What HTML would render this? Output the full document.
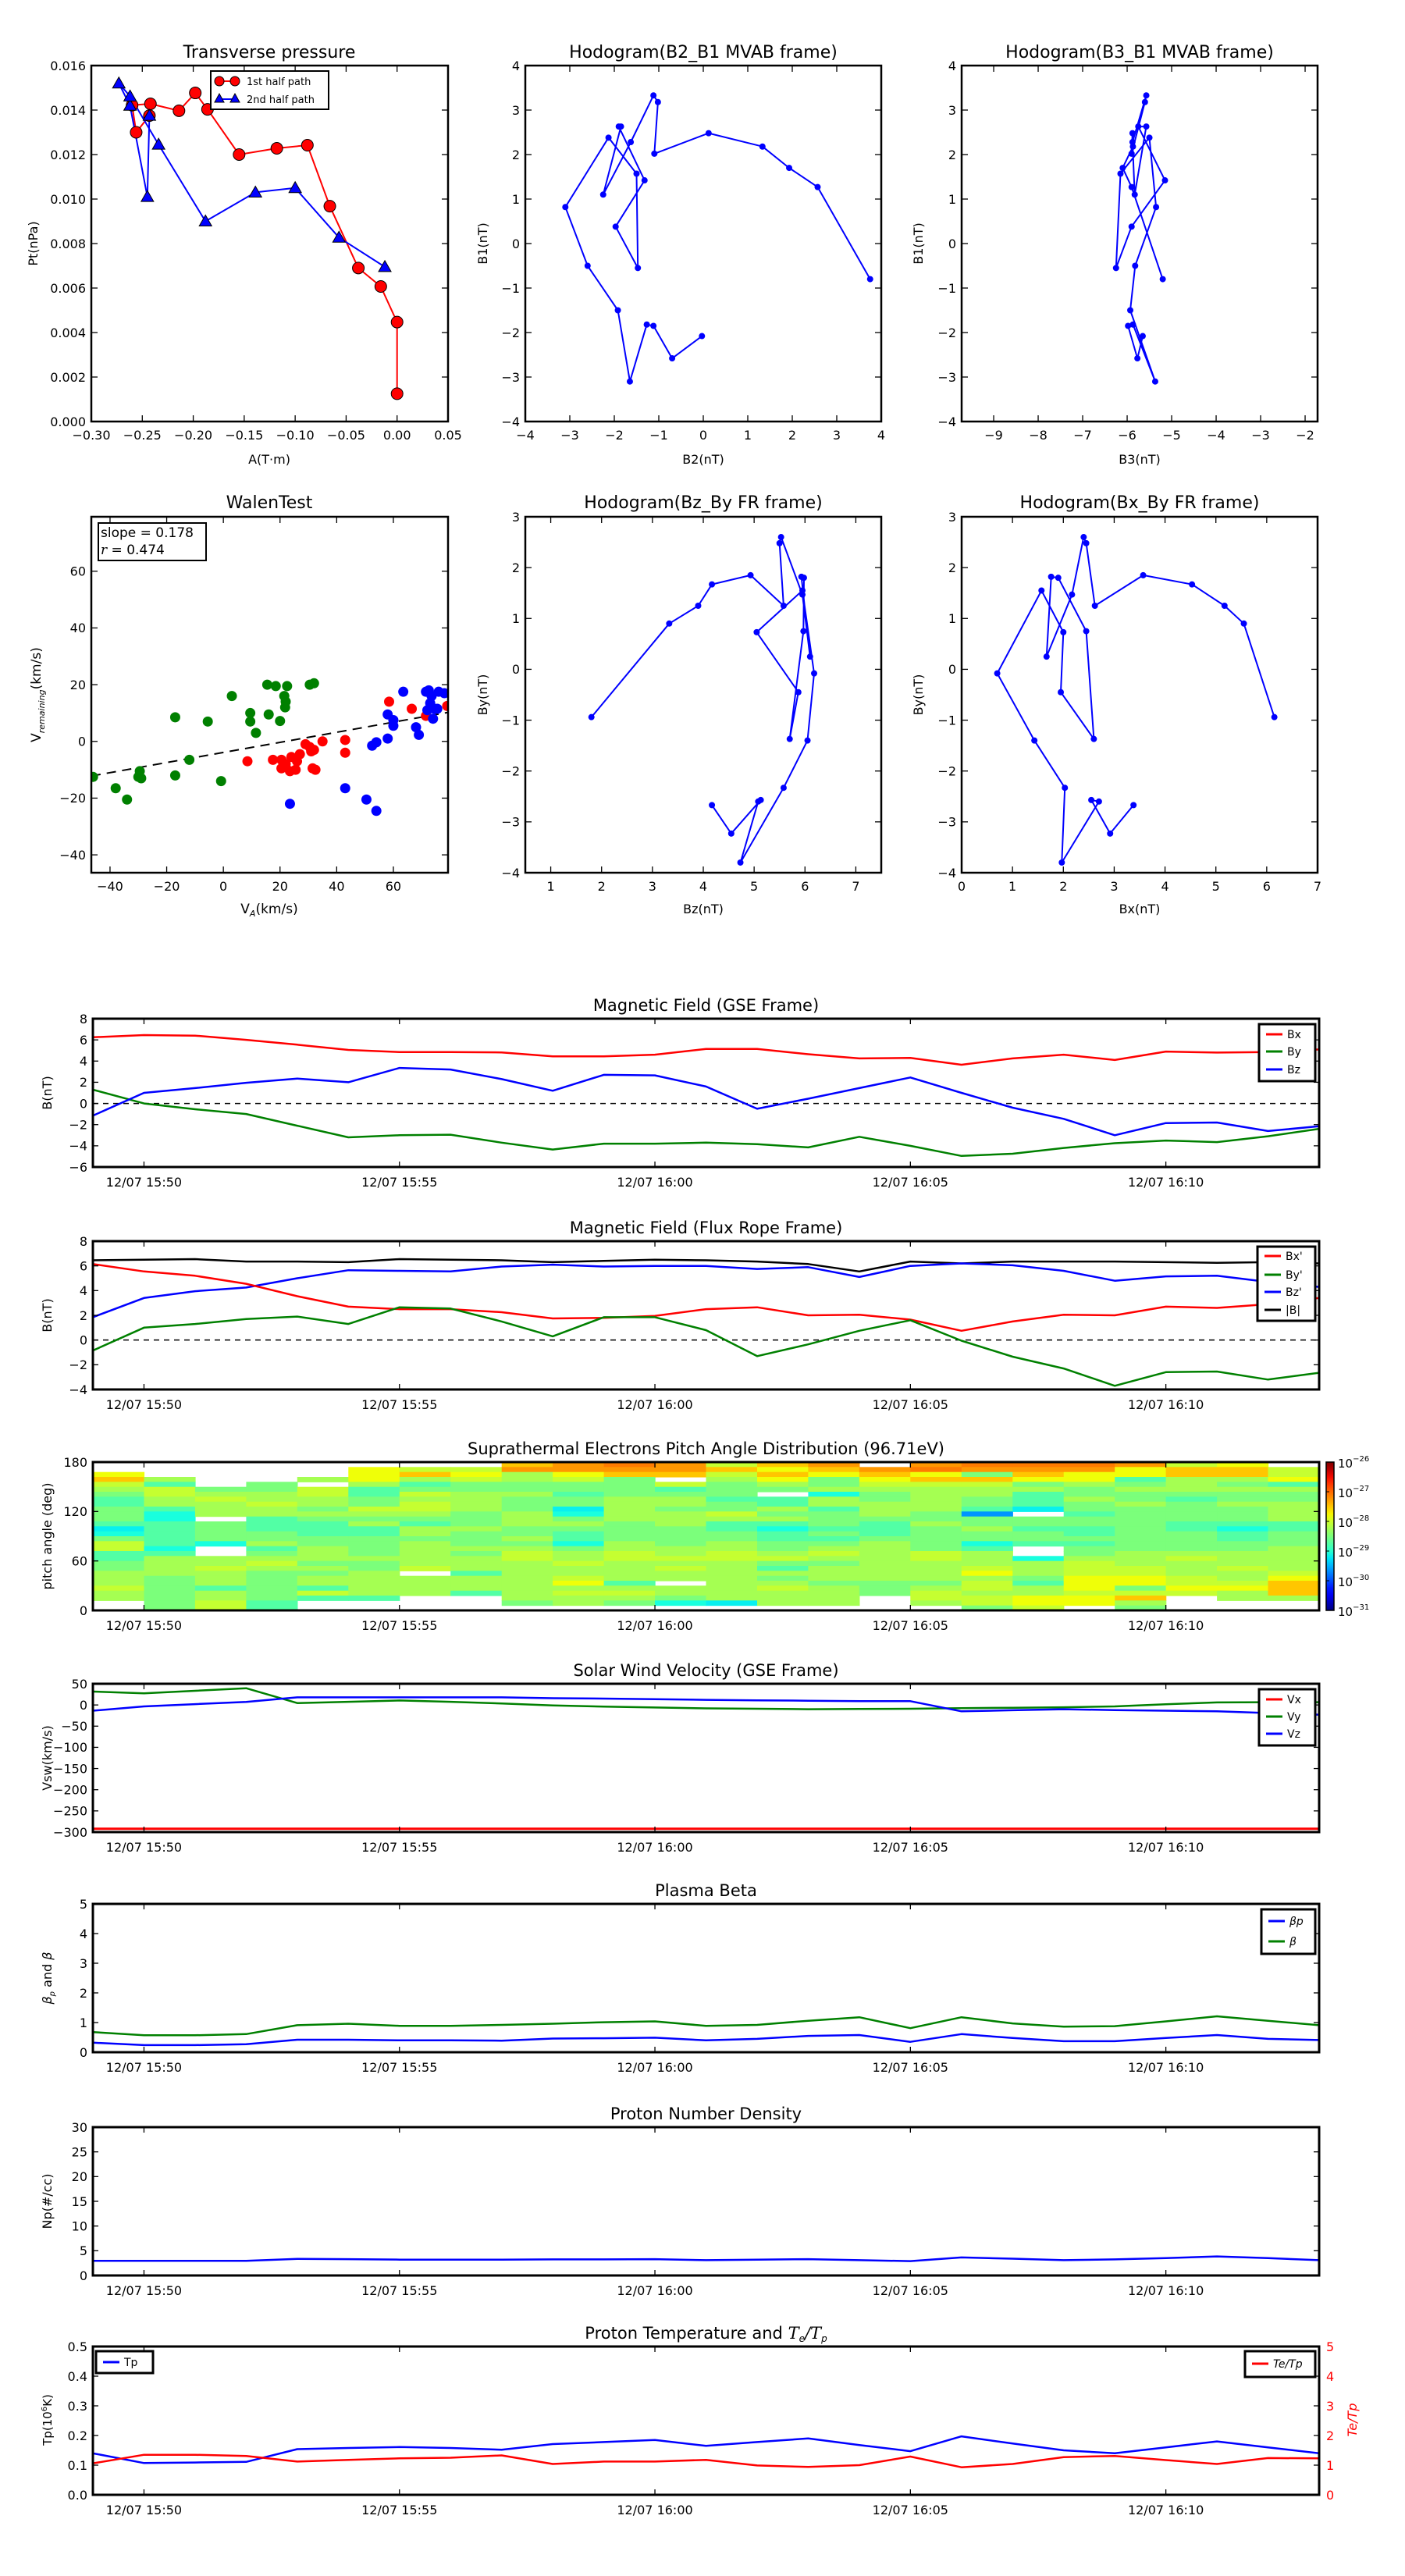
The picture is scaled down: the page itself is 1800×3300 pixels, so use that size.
<!DOCTYPE html>
<html><head><meta charset="utf-8"><style>
html,body{margin:0;padding:0;background:#fff;}
svg{display:block;font-family:"DejaVu Sans","Liberation Sans",sans-serif;}
</style></head><body>
<svg id="fig" xmlns="http://www.w3.org/2000/svg" width="1800" height="3300" viewBox="0 0 1800 3300">
<rect x="0" y="0" width="1800" height="3300" fill="#fff"/>
</svg>
<script>
// ===== Transverse pressure =====
const ptRedA=[0,0,-0.016,-0.038,-0.066,-0.088,-0.118,-0.155,-0.186,-0.198,-0.214,-0.242,-0.260,-0.256,-0.243];
const ptRedP=[0.00125,0.00447,0.00607,0.0069,0.00968,0.01242,0.01228,0.0120,0.01403,0.01477,0.01397,0.01428,0.01422,0.0130,0.01375];
const ptBlueA=[-0.243,-0.245,-0.262,-0.273,-0.262,-0.234,-0.188,-0.139,-0.100,-0.057,-0.012];
const ptBlueP=[0.01375,0.0101,0.0142,0.0152,0.01462,0.01245,0.0090,0.0103,0.0105,0.00827,0.00695];
// ===== MVAB hodograms =====
const mvB2=[-0.03,-0.7,-1.12,-1.27,-1.65,-1.92,-2.6,-3.1,-2.13,-1.5,-1.47,-1.97,-1.32,-1.9,-1.85,-2.25,-1.63,-1.12,-1.02,-1.1,0.12,1.33,1.93,2.57,3.75];
const mvB1=[-2.08,-2.58,-1.85,-1.82,-3.1,-1.5,-0.5,0.82,2.38,1.57,-0.55,0.38,1.42,2.63,2.63,1.1,2.28,3.33,3.18,2.02,2.48,2.18,1.7,1.27,-0.8];
const mvB3=[-5.65,-5.77,-5.98,-5.87,-5.37,-5.93,-5.82,-5.35,-5.5,-6.15,-6.25,-5.9,-5.15,-5.75,-5.57,-5.83,-5.88,-5.57,-5.6,-5.9,-5.88,-5.87,-6.1,-5.9,-5.2];
// ===== Walen test =====
const walGreenX=[-46,-38,-34,-30,-29.5,-29,-17,-17,-12,-5.5,-0.8,3,9.5,9.5,11.5,15.5,16,18.5,20,21.5,22,21.8,22.5,30.5,32];
const walGreenY=[-12.5,-16.5,-20.5,-12.5,-10.5,-13,8.5,-12,-6.5,7,-14,16,10,7,3,20,9.5,19.5,7.2,16,14,12,19.5,20,20.5];
const walRedX=[8.5,17.5,20.5,20.5,22,23.5,24,25.5,26,27,29,30.5,31,31.5,32,32.5,35,43,43,58.5,66.5,71.5,79];
const walRedY=[-7,-6.5,-6.5,-9.5,-8,-10.5,-5.5,-10,-7,-4.5,-1,-2,-3.5,-9.5,-3,-10,0,0.5,-4,14,11.5,9,12.5];
const walBlueX=[23.5,43,50.5,52.5,54,54,58,58,60,60,63.5,68,69,71.5,72.5,72,73,73.5,74,74.5,75.5,76,78];
const walBlueY=[-22,-16.5,-20.5,-1.5,-0.3,-24.5,1,9.5,7.5,5.5,17.5,5,2.3,17.5,18,11,13.5,16,8,11.5,11.5,17.5,17];
const walSlope=0.178, walIntercept=-3.9;
// ===== FR hodograms =====
const frBx=[6.15,5.55,5.17,4.53,3.57,2.62,2.45,2.4,2.17,1.67,1.76,1.9,2.45,2.6,1.95,2.0,1.57,0.7,1.43,2.03,1.97,2.7,2.55,2.92,3.38];
const frBy=[-0.94,0.9,1.25,1.67,1.85,1.25,2.48,2.6,1.47,0.25,1.82,1.8,0.75,-1.37,-0.45,0.73,1.55,-0.08,-1.4,-2.33,-3.8,-2.6,-2.57,-3.23,-2.67];
const frBz=[1.8,3.33,3.9,4.17,4.93,5.58,5.5,5.53,5.95,6.1,5.93,5.98,5.97,5.7,5.87,5.05,5.95,6.18,6.05,5.58,4.73,5.08,5.13,4.55,4.17];
// ===== Time series (minutes after 15:50) =====
const tMin=[-1,0,1,2,3,4,5,6,7,8,9,10,11,12,13,14,15,16,17,18,19,20,21,22,23];
const timeTicks=[0,5,10,15,20];
const timeLabels=["12/07 15:50","12/07 15:55","12/07 16:00","12/07 16:05","12/07 16:10"];
const gseBx=[6.25,6.45,6.4,6.0,5.55,5.05,4.85,4.85,4.82,4.45,4.45,4.6,5.15,5.15,4.65,4.25,4.3,3.65,4.25,4.6,4.1,4.9,4.8,4.85,5.1];
const gseBy=[1.3,0.0,-0.55,-1.0,-2.1,-3.2,-3.0,-2.95,-3.7,-4.35,-3.8,-3.8,-3.7,-3.85,-4.15,-3.15,-4.0,-4.95,-4.75,-4.2,-3.75,-3.5,-3.65,-3.1,-2.4];
const gseBz=[-1.15,1.0,1.45,1.95,2.35,2.0,3.35,3.2,2.3,1.2,2.7,2.65,1.6,-0.5,0.45,1.45,2.45,1.0,-0.4,-1.45,-3.0,-1.85,-1.8,-2.6,-2.15];
const ropeBx=[6.15,5.55,5.2,4.55,3.55,2.7,2.5,2.5,2.25,1.75,1.8,1.95,2.5,2.65,2.0,2.05,1.65,0.75,1.5,2.05,2.0,2.7,2.6,2.9,3.4];
const ropeBy=[-0.85,1.0,1.3,1.7,1.9,1.3,2.65,2.55,1.5,0.3,1.85,1.85,0.8,-1.3,-0.35,0.75,1.6,-0.05,-1.35,-2.3,-3.7,-2.6,-2.55,-3.2,-2.65];
const ropeBz=[1.85,3.4,3.95,4.25,5.0,5.65,5.6,5.55,5.95,6.1,5.95,6.0,6.0,5.75,5.9,5.1,6.0,6.2,6.05,5.6,4.8,5.15,5.2,4.7,4.3];
const ropeBt=[6.45,6.5,6.55,6.35,6.35,6.3,6.55,6.5,6.45,6.3,6.4,6.5,6.45,6.35,6.15,5.55,6.35,6.2,6.35,6.35,6.35,6.3,6.25,6.3,6.2];
const velVx=[-292,-292,-292,-292,-292,-292,-292,-292,-292,-292,-292,-292,-292,-292,-292,-292,-292,-292,-292,-292,-292,-292,-292,-292,-292];
const velVy=[31.5,27.5,33.5,39.5,4.5,7.5,10.5,7.5,3.5,-1,-4,-6,-8,-9,-10,-9.5,-9,-7.5,-6.5,-5.5,-3.5,1.5,6,6.5,6.5];
const velVz=[-13.5,-3.5,2,7,18,18,18,18,18,16,15,13.5,12,11,10,9,9,-15,-12.5,-10,-12,-13.5,-15,-19,-23];
const betaP=[0.32,0.24,0.24,0.27,0.42,0.42,0.4,0.4,0.39,0.46,0.47,0.49,0.4,0.45,0.55,0.58,0.35,0.61,0.48,0.37,0.37,0.48,0.58,0.45,0.41];
const betaAll=[0.68,0.57,0.57,0.61,0.91,0.96,0.89,0.89,0.92,0.96,1.01,1.04,0.89,0.92,1.06,1.18,0.81,1.18,0.97,0.86,0.88,1.04,1.21,1.06,0.91];
const densNp=[2.95,2.95,2.95,2.95,3.35,3.3,3.2,3.2,3.2,3.25,3.25,3.3,3.1,3.2,3.3,3.1,2.9,3.65,3.4,3.1,3.25,3.5,3.85,3.5,3.1];
const tempTp=[0.14,0.107,0.109,0.111,0.154,0.158,0.161,0.158,0.152,0.171,0.178,0.185,0.165,0.178,0.19,0.168,0.147,0.197,0.173,0.15,0.14,0.16,0.18,0.16,0.14];
const tempRatio=[1.06,1.35,1.35,1.31,1.12,1.18,1.23,1.25,1.33,1.04,1.12,1.12,1.18,0.99,0.94,1.0,1.29,0.93,1.04,1.27,1.31,1.17,1.04,1.24,1.23];
// ===== Pitch angle distribution: one string per minute column, rows 180deg -> 0deg (6deg bins) =====
const padColumns=[
"..56432112"+"221c024411"+"22333433..",
"...3144331"+"0011111013"+"3332222222",
".....23433"+"3.22220..3"+"3433313344",
"....223343"+"3111223123"+"4322222211",
"...3.44332"+"3211122333"+"23233141..",
".555311224"+"3231122223"+"22333331..",
".463124344"+"3213323333"+"34.3333...",
".454223333"+"2223222323"+"3313331...",
"6733223222"+"3332232344"+"333333332.",
"775422122c"+"0232110233"+"433453433.",
"8762222333"+"3322223344"+"333313432.",
"776.412332"+"3332222334"+"3433.3320.",
"4643222122"+"4311223344"+"33333333c.",
"656532.113"+"2310112234"+"213234333.",
"7652230331"+"2221212343"+"233323333.",
".765432233"+"3211123333"+"3333222...",
"7856433333"+"2232222244"+"333323443.",
"8726433221"+"b223220133"+"3453443442",
"876523111c"+".221221..0"+"3332133554",
"8755322322"+"1221121223"+"444555455.",
"7551232232"+"2222222233"+"3445524632",
"4663332122"+"2211222234"+"3334454...",
"5663232232"+"2210112233"+"34334533..",
".445132233"+"3311222333"+"33456663.."];
const padCodeLog={"b":-29.65,"c":-29.2,"0":-29.1,"1":-28.75,"2":-28.5,"3":-28.25,"4":-28.05,"5":-27.8,"6":-27.5,"7":-27.25,"8":-27.1};
const cbTicks=[-26,-27,-28,-29,-30,-31];

const NS='http://www.w3.org/2000/svg';
const svg=document.getElementById('fig');
function mk(tag,attrs,parent){const e=document.createElementNS(NS,tag);for(const k in attrs)e.setAttribute(k,attrs[k]);(parent||svg).appendChild(e);return e;}
function txt(s,attrs,parent){const e=mk('text',attrs,parent);e.textContent=s;return e;}
let clipId=0;
function makeAxes(name,x0,x1,y0,y1,xd,yd){
  const g=mk('g',{});
  
  
  const sx=v=>x0+(v-xd[0])/(xd[1]-xd[0])*(x1-x0);
  const sy=v=>y1-(v-yd[0])/(yd[1]-yd[0])*(y1-y0);
  const id='clip'+(clipId++);
  const cp=mk('clipPath',{id:id},g);
  mk('rect',{x:x0,y:y0,width:x1-x0,height:y1-y0},cp);
  const data=mk('g',{'clip-path':'url(#'+id+')'},g);
  
  
  return {g,data,sx,sy,x0,x1,y0,y1};
}
function frame(ax,w){
  const r=mk('rect',{x:ax.x0,y:ax.y0,width:ax.x1-ax.x0,height:ax.y1-ax.y0,fill:'none',stroke:'#000','stroke-width':w||2.5},ax.g);
  
  
}
function fmt(s){return String(s).replace('-','\u2212');}
function xTicks(ax,vals,labels,fs,off,len){
  vals.forEach((v,i)=>{
    const x=ax.sx(v);
    const t1=mk('line',{x1:x,x2:x,y1:ax.y1,y2:ax.y1-len,stroke:'#000','stroke-width':1.3},ax.g);
    
    
    const t2=mk('line',{x1:x,x2:x,y1:ax.y0,y2:ax.y0+len,stroke:'#000','stroke-width':1.3},ax.g);
    
    
    const l=txt(fmt(labels[i]),{x:x,y:ax.y1+off,'font-size':fs,'text-anchor':'middle'},ax.g);
    
    
  });
}
function yTicks(ax,vals,labels,fs,len,rightLabels,rightColor){
  vals.forEach((v,i)=>{
    const y=ax.sy(v);
    const t1=mk('line',{x1:ax.x0,x2:ax.x0+len,y1:y,y2:y,stroke:'#000','stroke-width':1.3},ax.g);
    
    
    const t2=mk('line',{x1:ax.x1,x2:ax.x1-len,y1:y,y2:y,stroke:'#000','stroke-width':1.3},ax.g);
    
    
    const l=txt(fmt(labels[i]),{x:ax.x0-7,y:y,dy:'0.36em','font-size':fs,'text-anchor':'end'},ax.g);
    
    
  });
}
function title(s,x,y,fs){
  const t=txt(s,{x:x,y:y,'font-size':fs,'text-anchor':'middle'});
  
  
  return t;
}
function ylabel(s,x,y,fs,color){
  const t=txt(s,{x:x,y:y,'font-size':fs,'text-anchor':'middle',transform:'rotate(-90 '+x+' '+y+')',fill:color||'#000'});
  
  
  return t;
}
function xlabel(s,x,y,fs){
  const t=txt(s,{x:x,y:y,'font-size':fs,'text-anchor':'middle'});
  
  
  return t;
}
function polyline(ax,xs,ys,color,w,name,sxf,syf){
  const pts=xs.map((v,i)=>(sxf||ax.sx)(v).toFixed(1)+','+(syf||ax.sy)(ys[i]).toFixed(1)).join(' ');
  const p=mk('polyline',{points:pts,fill:'none',stroke:color,'stroke-width':w,'stroke-linejoin':'round'},ax.data);
  
  
  return p;
}
function dots(ax,xs,ys,color,r,name,stroke){
  xs.forEach((v,i)=>{
    const c=mk('circle',{cx:ax.sx(v),cy:ax.sy(ys[i]),r:r,fill:color,stroke:stroke||'none','stroke-width':1},ax.data);
    
    
  });
}
function tri(ax,xs,ys,color,s,name){
  xs.forEach((v,i)=>{
    const x=ax.sx(v),y=ax.sy(ys[i]);
    const p=mk('polygon',{points:`${x},${y-s} ${x-s},${y+s*0.75} ${x+s},${y+s*0.75}`,fill:color,stroke:'#000','stroke-width':1},ax.data);
    
    
  });
}
function range(a,b,s){const r=[];for(let v=a;v<=b+1e-9;v+=s)r.push(+v.toFixed(6));return r;}

// ---------- Row 1 ----------
{
 const ax=makeAxes('transverse-pressure-chart',117,574,84,540,[-0.30,0.05],[0,0.016]);
 polyline(ax,ptRedA,ptRedP,'#ff0000',2,'first-half-path-line');
 polyline(ax,ptBlueA,ptBlueP,'#0000ff',2,'second-half-path-line');
 dots(ax,ptRedA,ptRedP,'#ff0000',7.5,'first-half-marker','#000');
 tri(ax,ptBlueA,ptBlueP,'#0000ff',8,'second-half-marker');
 frame(ax);
 const xv=range(-0.30,0.05,0.05);
 xTicks(ax,xv,xv.map(v=>v.toFixed(2)),16,23,8);
 const yv=range(0,0.016,0.002);
 yTicks(ax,yv,yv.map(v=>v.toFixed(3)),16,8);
 title('Transverse pressure',345,74,22);
 ylabel('Pt(nPa)',48,312,16);
 xlabel('A(T\u00b7m)',345,594,16);
 const lg=mk('g',{});
 
 
 mk('rect',{x:270,y:91,width:151,height:49,fill:'#fff',stroke:'#000','stroke-width':2},lg);
 mk('line',{x1:281,x2:301,y1:104,y2:104,stroke:'#ff0000','stroke-width':2},lg);
 mk('circle',{cx:281,cy:104,r:6,fill:'#ff0000',stroke:'#000'},lg);
 mk('circle',{cx:301,cy:104,r:6,fill:'#ff0000',stroke:'#000'},lg);
 const e1=txt('1st half path',{x:316,y:109,'font-size':13},lg);
 
 
 mk('line',{x1:281,x2:301,y1:127,y2:127,stroke:'#0000ff','stroke-width':2},lg);
 mk('polygon',{points:'281,120 275,131 287,131',fill:'#0000ff',stroke:'#000'},lg);
 mk('polygon',{points:'301,120 295,131 307,131',fill:'#0000ff',stroke:'#000'},lg);
 const e2=txt('2nd half path',{x:316,y:132,'font-size':13},lg);
 
 
}
{
 const ax=makeAxes('hodogram-b2-b1-chart',673,1129,84,540,[-4,4],[-4,4]);
 polyline(ax,mvB2,mvB1,'#0000ff',2,'hodogram-b2-b1-line');
 dots(ax,mvB2,mvB1,'#0000ff',4,'hodogram-b2-b1-point');
 frame(ax);
 const v=range(-4,4,1);
 xTicks(ax,v,v.map(String),16,23,8);
 yTicks(ax,v,v.map(String),16,8);
 title('Hodogram(B2_B1 MVAB frame)',901,74,22);
 ylabel('B1(nT)',624,312,16);
 xlabel('B2(nT)',901,594,16);
}
{
 const ax=makeAxes('hodogram-b3-b1-chart',1232,1688,84,540,[-9.72,-1.72],[-4,4]);
 polyline(ax,mvB3,mvB1,'#0000ff',2,'hodogram-b3-b1-line');
 dots(ax,mvB3,mvB1,'#0000ff',4,'hodogram-b3-b1-point');
 frame(ax);
 const xv=range(-9,-2,1);
 xTicks(ax,xv,xv.map(String),16,23,8);
 const yv=range(-4,4,1);
 yTicks(ax,yv,yv.map(String),16,8);
 title('Hodogram(B3_B1 MVAB frame)',1460,74,22);
 ylabel('B1(nT)',1182,312,16);
 xlabel('B3(nT)',1460,594,16);
}
// ---------- Row 2 ----------
{
 const ax=makeAxes('walen-test-chart',117,574,662,1118,[-46.6,79.3],[-46.3,79.2]);
 const fx=[-46.6,79.3];
 const ln=mk('line',{x1:ax.sx(fx[0]),y1:ax.sy(walSlope*fx[0]+walIntercept),x2:ax.sx(fx[1]),y2:ax.sy(walSlope*fx[1]+walIntercept),stroke:'#000','stroke-width':2,'stroke-dasharray':'12,8'},ax.data);
 
 
 dots(ax,walGreenX,walGreenY,'#008000',6.5,'walen-point-green');
 dots(ax,walRedX,walRedY,'#ff0000',6.5,'walen-point-red');
 dots(ax,walBlueX,walBlueY,'#0000ff',6.5,'walen-point-blue');
 frame(ax);
 const xv=range(-40,60,20);
 xTicks(ax,xv,xv.map(String),16,23,8);
 const yv=range(-40,60,20);
 yTicks(ax,yv,yv.map(String),16,8);
 title('WalenTest',345,651,22);
 const yl=ylabel('',52,890,17);
 yl.textContent='';
 mk('tspan',{},yl).textContent='V';
 mk('tspan',{'font-size':11,'font-style':'italic',dy:5},yl).textContent='remaining';
 mk('tspan',{dy:-5},yl).textContent='(km/s)';
 const xl=xlabel('',345,1170,17);
 mk('tspan',{},xl).textContent='V';
 mk('tspan',{'font-size':11,'font-style':'italic',dy:4},xl).textContent='A';
 mk('tspan',{dy:-4},xl).textContent='(km/s)';
 const bx=mk('g',{});
 
 
 mk('rect',{x:126,y:670,width:138,height:48,fill:'#fff',stroke:'#000','stroke-width':2},bx);
 txt('slope = 0.178',{x:129,y:688,'font-size':17},bx);
 const r2=txt('',{x:129,y:710,'font-size':17},bx);
 mk('tspan',{'font-style':'italic','font-family':'DejaVu Serif, serif'},r2).textContent='r';
 mk('tspan',{},r2).textContent=' = 0.474';
}
{
 const ax=makeAxes('hodogram-bz-by-chart',673,1129,662,1118,[0.5,7.5],[-4,3]);
 polyline(ax,frBz,frBy,'#0000ff',2,'hodogram-bz-by-line');
 dots(ax,frBz,frBy,'#0000ff',4,'hodogram-bz-by-point');
 frame(ax);
 const xv=range(1,7,1);
 xTicks(ax,xv,xv.map(String),16,23,8);
 const yv=range(-4,3,1);
 yTicks(ax,yv,yv.map(String),16,8);
 title('Hodogram(Bz_By FR frame)',901,651,22);
 ylabel('By(nT)',624,890,16);
 xlabel('Bz(nT)',901,1170,16);
}
{
 const ax=makeAxes('hodogram-bx-by-chart',1232,1688,662,1118,[0,7],[-4,3]);
 polyline(ax,frBx,frBy,'#0000ff',2,'hodogram-bx-by-line');
 dots(ax,frBx,frBy,'#0000ff',4,'hodogram-bx-by-point');
 frame(ax);
 const xv=range(0,7,1);
 xTicks(ax,xv,xv.map(String),16,23,8);
 const yv=range(-4,3,1);
 yTicks(ax,yv,yv.map(String),16,8);
 title('Hodogram(Bx_By FR frame)',1460,651,22);
 ylabel('By(nT)',1182,890,16);
 xlabel('Bx(nT)',1460,1170,16);
}
// ---------- Time series ----------
const TX0=119,TX1=1690,PH=190,TCX=(TX0+TX1)/2;
function timePanel(name,top,yd,yv,ylab,ttl){
 const ax=makeAxes(name,TX0,TX1,top,top+PH,[-1,23],yd);
 ax.finish=function(){
  frame(ax,3);
  xTicks(ax,timeTicks,timeLabels,16,25,7);
  yTicks(ax,yv.v,yv.l,16,7);
  title(ttl,TCX,top-10,21);
  if(ylab) ylabel(ylab,66,top+PH/2,16);
 };
 return ax;
}
function legend(name,x,y,w,h,items,fs){
 const lg=mk('g',{});
 
 
 mk('rect',{x:x,y:y,width:w,height:h,fill:'#fff',stroke:'#000','stroke-width':3},lg);
 items.forEach(it=>{
  mk('line',{x1:x+9,x2:x+30,y1:it.y,y2:it.y,stroke:it.c,'stroke-width':3},lg);
  const t=txt(it.t,{x:x+36,y:it.y+5,'font-size':fs||14,'font-style':it.i?'italic':'normal'},lg);
  
  
 });
}
function zeroLine(ax){
 const l=mk('line',{x1:ax.x0,x2:ax.x1,y1:ax.sy(0),y2:ax.sy(0),stroke:'#000','stroke-width':1.5,'stroke-dasharray':'7,6'},ax.data);
 
 
}
{
 const ax=timePanel('magnetic-field-gse-chart',1305,[-6,8],{v:range(-6,8,2),l:range(-6,8,2).map(String)},'B(nT)','Magnetic Field (GSE Frame)');
 zeroLine(ax);
 polyline(ax,tMin,gseBx,'#ff0000',2.5,'bx-line');
 polyline(ax,tMin,gseBy,'#008000',2.5,'by-line');
 polyline(ax,tMin,gseBz,'#0000ff',2.5,'bz-line');
 ax.finish();
 legend('gse-legend',1613,1312,72,73,[{t:'Bx',c:'#ff0000',y:1325},{t:'By',c:'#008000',y:1347},{t:'Bz',c:'#0000ff',y:1370}]);
}
{
 const ax=timePanel('magnetic-field-flux-rope-chart',1590,[-4,8],{v:range(-4,8,2),l:range(-4,8,2).map(String)},'B(nT)','Magnetic Field (Flux Rope Frame)');
 zeroLine(ax);
 polyline(ax,tMin,ropeBt,'#000000',2.5,'btotal-line');
 polyline(ax,tMin,ropeBz,'#0000ff',2.5,'bz-prime-line');
 polyline(ax,tMin,ropeBx,'#ff0000',2.5,'bx-prime-line');
 polyline(ax,tMin,ropeBy,'#008000',2.5,'by-prime-line');
 ax.finish();
 legend('flux-rope-legend',1611,1597,74,95,[{t:"Bx'",c:'#ff0000',y:1609},{t:"By'",c:'#008000',y:1633},{t:"Bz'",c:'#0000ff',y:1655},{t:'|B|',c:'#000',y:1678}]);
}
function jet(t){
 t=Math.max(0,Math.min(1,t));
 function seg(p){for(let i=0;i<p.length-1;i++){if(t<=p[i+1][0]){const a=p[i],b=p[i+1];return a[1]+(b[1]-a[1])*(t-a[0])/(b[0]-a[0]);}}return p[p.length-1][1];}
 const r=seg([[0,0],[0.35,0],[0.66,1],[0.89,1],[1,0.5]]);
 const g=seg([[0,0],[0.125,0],[0.375,1],[0.64,1],[0.91,0],[1,0]]);
 const b=seg([[0,0.5],[0.11,1],[0.34,1],[0.65,0],[1,0]]);
 return `rgb(${Math.round(r*255)},${Math.round(g*255)},${Math.round(b*255)})`;
}
{
 const ax=timePanel('pitch-angle-distribution-chart',1873,[0,180],{v:[0,60,120,180],l:['0','60','120','180']},'pitch angle (deg)','Suprathermal Electrons Pitch Angle Distribution (96.71eV)');
 padColumns.forEach((col,k)=>{
  for(let r=0;r<col.length;r++){
   const code=col[r];
   if(!(code in padCodeLog)) continue;
   const v=padCodeLog[code];
   const a1=180-6*r,a0=a1-6;
   const x=ax.sx(tMin[k]),x2=ax.sx(tMin[k]+1);
   const c=mk('rect',{x:x.toFixed(1),y:ax.sy(a1).toFixed(1),width:(x2-x+0.6).toFixed(1),height:(ax.sy(a0)-ax.sy(a1)+0.6).toFixed(1),fill:jet((v+31)/5)},ax.data);
   
   
  }
 });
 ax.finish();
 const cb=mk('g',{});
 
 
 const defs=mk('defs',{},cb);
 const gr=mk('linearGradient',{id:'jetgrad',x1:0,y1:1,x2:0,y2:0},defs);
 for(let i=0;i<=20;i++){mk('stop',{offset:(i/20),'stop-color':jet(i/20)},gr);}
 mk('rect',{x:1699,y:1873,width:10,height:PH,fill:'url(#jetgrad)',stroke:'#000','stroke-width':1.5},cb);
 cbTicks.forEach(p=>{
  const y=1873+(-26-p)/5*PH;
  mk('line',{x1:1699,x2:1703,y1:y,y2:y,stroke:'#000'},cb);
  const t=txt('',{x:1714,y:y+7,'font-size':15},cb);
  
  
  mk('tspan',{},t).textContent='10';
  mk('tspan',{dy:-8,'font-size':10},t).textContent='\u2212'+String(-p);
 });
}
{
 const ax=timePanel('solar-wind-velocity-chart',2157,[-300,50],{v:range(-300,50,50),l:range(-300,50,50).map(String)},'Vsw(km/s)','Solar Wind Velocity (GSE Frame)');
 polyline(ax,tMin,velVx,'#ff0000',3,'vx-line');
 polyline(ax,tMin,velVy,'#008000',2.5,'vy-line');
 polyline(ax,tMin,velVz,'#0000ff',2.5,'vz-line');
 ax.finish();
 legend('velocity-legend',1613,2164,72,72,[{t:'Vx',c:'#ff0000',y:2177},{t:'Vy',c:'#008000',y:2199},{t:'Vz',c:'#0000ff',y:2221}]);
}
{
 const ax=timePanel('plasma-beta-chart',2439,[0,5],{v:range(0,5,1),l:range(0,5,1).map(String)},null,'Plasma Beta');
 polyline(ax,tMin,betaAll,'#008000',2.5,'beta-total-line');
 polyline(ax,tMin,betaP,'#0000ff',2.5,'beta-proton-line');
 ax.finish();
 const yl=ylabel('',66,2534,16);
 mk('tspan',{'font-style':'italic'},yl).textContent='\u03b2';
 mk('tspan',{'font-size':10,dy:4,'font-style':'italic'},yl).textContent='p';
 mk('tspan',{dy:-4},yl).textContent=' and ';
 mk('tspan',{'font-style':'italic'},yl).textContent='\u03b2';
 legend('beta-legend',1616,2446,69,57,[{t:'\u03b2p',c:'#0000ff',y:2461,i:true},{t:'\u03b2',c:'#008000',y:2487,i:true}]);
}
{
 const ax=timePanel('proton-density-chart',2725,[0,30],{v:range(0,30,5),l:range(0,30,5).map(String)},'Np(#/cc)','Proton Number Density');
 polyline(ax,tMin,densNp,'#0000ff',2.5,'density-line');
 ax.finish();
}
{
 const ax=timePanel('proton-temperature-chart',3006,[0,0.5],{v:range(0,0.5,0.1),l:range(0,0.5,0.1).map(v=>v.toFixed(1))},null,'');
 const syR=v=>ax.y1-v/5*(ax.y1-ax.y0);
 polyline(ax,tMin,tempTp,'#0000ff',2.5,'tp-line');
 polyline(ax,tMin,tempRatio,'#ff0000',2.5,'te-tp-ratio-line',null,syR);
 ax.finish();
 const tt=svg.lastChild;
 tt.textContent='Proton Temperature and ';
 mk('tspan',{'font-style':'italic','font-family':'DejaVu Serif, serif'},tt).textContent='T';
 mk('tspan',{'font-size':12,dy:4,'font-style':'italic'},tt).textContent='e';
 mk('tspan',{dy:-4,'font-style':'italic','font-family':'DejaVu Serif, serif'},tt).textContent='/T';
 mk('tspan',{'font-size':12,dy:4,'font-style':'italic'},tt).textContent='p';
 [0,1,2,3,4,5].forEach(v=>{
  const t=txt(String(v),{x:1699,y:syR(v),dy:'0.36em','font-size':16,fill:'#ff0000'});
  
  
 });
 const yl=ylabel('',66,3100,15);
 mk('tspan',{},yl).textContent='Tp(10';
 mk('tspan',{'font-size':10,dy:-6},yl).textContent='6';
 mk('tspan',{dy:6},yl).textContent='K)';
 const yr=ylabel('Te/Tp',1738,3100,16,'#ff0000');
 yr.setAttribute('font-style','italic');
 
 legend('tp-legend',123,3012,73,28,[{t:'Tp',c:'#0000ff',y:3026}]);
 legend('te-tp-legend',1595,3012,90,33,[{t:'Te/Tp',c:'#ff0000',y:3028,i:true}]);
}
</script>
</body></html>
